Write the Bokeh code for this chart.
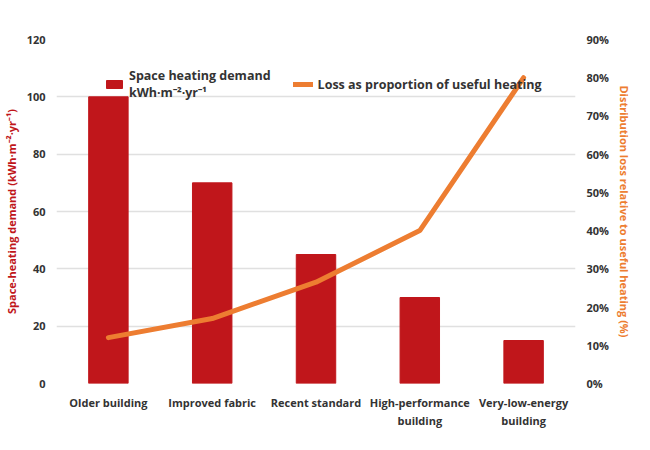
from bokeh.plotting import figure
from bokeh.models import Range1d, LinearAxis, NumeralTickFormatter, Legend, LegendItem
from bokeh.embed import file_html
from bokeh.resources import INLINE

categories = ["Older building", "Improved fabric", "Recent standard", "High-performance\nbuilding", "Very-low-energy\nbuilding"]
demand = [100, 70, 45, 30, 15]
loss = [0.12, 0.17, 0.265, 0.40, 0.80]

F = "Open Sans"
p = figure(x_range=categories, width=634, height=434, output_backend="svg", toolbar_location=None,
           y_range=Range1d(0, 120), min_border_left=47, min_border_right=42, min_border_top=39, min_border_bottom=51)
p.extra_y_ranges = {"pct": Range1d(0, 0.9)}
p.outline_line_color = None
p.xgrid.grid_line_color = None
p.ygrid.grid_line_color = "#e0e0e0"
p.ygrid.grid_line_width = 1.5

b = p.vbar(x=categories, top=demand, width=0.38, color="#C0161B")
l = p.line(x=categories, y=loss, y_range_name="pct", color="#ED7D31", line_width=5, line_cap="round")

ax2 = LinearAxis(y_range_name="pct", formatter=NumeralTickFormatter(format="0%"))
ax2.ticker.desired_num_ticks = 10
p.add_layout(ax2, "right")
p.yaxis[0].ticker.desired_num_ticks = 7
for ax in p.yaxis + p.xaxis:
    ax.axis_line_color = None
    ax.major_tick_line_color = None
    ax.minor_tick_line_color = None
    ax.major_label_text_font = F
    ax.major_label_text_font_style = "bold"
    ax.major_label_text_font_size = "11px"
    ax.major_label_text_color = "#333333"
    ax.axis_label_text_font = F
    ax.axis_label_text_font_style = "bold"
    ax.axis_label_text_font_size = "11px"
p.yaxis[0].axis_label = "Space-heating demand (kWh·m⁻²·yr⁻¹)"
p.yaxis[0].axis_label_text_color = "#C0161B"
ax2.axis_label = "Distribution loss relative to useful heating (%)"
ax2.axis_label_text_color = "#ED7D31"

leg = Legend(items=[LegendItem(label="Space heating demand\nkWh·m⁻²·yr⁻¹", renderers=[b]),
                    LegendItem(label="Loss as proportion of useful heating", renderers=[l])],
             orientation="horizontal", location=(48, 282), background_fill_alpha=0, border_line_color=None,
             label_text_font=F, label_text_font_style="bold", label_text_font_size="12.5px",
             label_text_color="#333333", glyph_width=20, glyph_height=10, spacing=22, padding=0)
p.add_layout(leg, "center")

open("out.html", "w").write(file_html(p, INLINE))
